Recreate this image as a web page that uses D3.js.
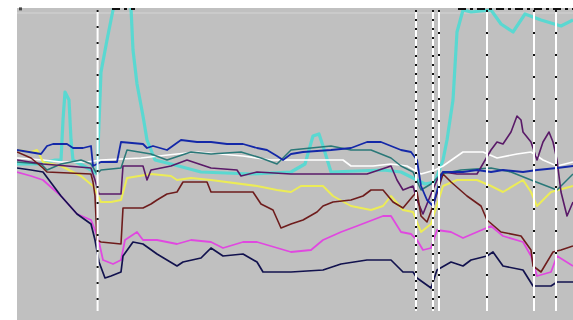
<!DOCTYPE html>
<html>
<head>
<meta charset="utf-8">
<script src="https://cdn.jsdelivr.net/npm/d3@7/dist/d3.min.js"></script>
<style>
html,body{margin:0;padding:0;background:#fff;}
svg{display:block;}
</style>
</head>
<body>
<svg id="chart" width="573" height="320"></svg>
<script>
// ---- data: [day, index value] ----
const turquoise = [[0,78],[12,78],[19,80],[22,80],[23,100],[24,114],[26,110],[27,90],[28,80],[37,75],[40,73],[42,124],[45,140],[48,155],[50,162],[55,162],[57,156],[58,135],[60,118],[63,102],[65,90],[69,80],[77,78],[92,74],[117,73],[137,74],[144,78],[148,92],[151,93],[153,87],[157,74],[183,75],[192,74],[200,70],[204,68],[209,69],[213,80],[215,90],[218,110],[220,144],[223,155],[227,154],[237,155],[242,148],[248,144],[254,153],[262,150],[272,147],[278,150]];
const white = [[0,81],[13,80],[22,79],[35,79],[42,80],[62,81],[80,83],[90,84],[113,82],[127,80],[137,80],[153,80],[163,80],[167,77],[178,77],[187,78],[195,77],[202,73],[209,75],[213,77],[223,84],[233,84],[240,81],[250,83],[257,84],[263,80],[270,77],[278,79]];
const yellow = [[0,85],[7,84],[10,85],[13,79],[22,77],[32,72],[38,67],[42,59],[47,59],[52,60],[55,71],[67,73],[77,72],[80,70],[87,71],[97,70],[120,67],[130,65],[137,64],[142,67],[153,67],[158,62],[167,57],[177,55],[183,57],[187,62],[193,55],[198,54],[202,44],[207,48],[213,67],[220,70],[230,70],[237,67],[243,64],[253,70],[257,64],[260,57],[267,64],[278,67]];
const magenta = [[0,74],[7,72],[13,70],[22,62],[30,53],[37,50],[39,45],[41,39],[43,30],[48,28],[52,30],[54,40],[60,44],[63,40],[70,40],[80,38],[87,40],[97,39],[103,36],[113,39],[120,39],[137,34],[147,35],[153,40],[162,44],[170,47],[183,52],[187,52],[192,44],[197,43],[200,40],[203,35],[207,36],[210,45],[217,44],[223,41],[230,44],[237,47],[243,42],[253,39],[257,32],[260,22],[267,24],[270,32],[278,27]];
const teal = [[0,79],[12,78],[15,75],[22,78],[32,80],[37,78],[40,73],[42,75],[52,76],[55,85],[67,83],[75,80],[87,84],[97,83],[112,84],[122,81],[130,78],[137,85],[147,86],[157,87],[167,85],[177,85],[187,81],[192,77],[198,74],[202,65],[207,68],[212,73],[222,75],[237,76],[247,74],[257,70],[270,65],[278,73]];
const purple = [[0,80],[13,78],[37,76],[39,70],[41,63],[52,63],[53,77],[63,77],[65,70],[67,75],[77,77],[85,80],[97,76],[110,75],[112,72],[120,74],[137,73],[175,73],[187,77],[190,70],[193,65],[198,67],[200,60],[203,53],[207,63],[210,70],[213,74],[220,73],[230,73],[237,85],[240,89],[243,88],[247,94],[250,102],[252,100],[253,94],[257,89],[260,80],[263,89],[266,94],[268,89],[270,80],[272,64],[275,52],[278,59]];
const brown = [[0,84],[7,81],[13,76],[15,74],[37,73],[38,69],[39,62],[40,40],[42,39],[52,38],[53,56],[63,56],[67,58],[70,60],[75,63],[80,64],[83,69],[95,69],[97,64],[118,64],[122,58],[128,55],[132,46],[137,48],[143,50],[150,54],[153,57],[158,59],[167,60],[173,62],[177,65],[183,65],[188,59],[193,56],[198,62],[200,64],[202,52],[205,49],[208,57],[213,73],[217,69],[225,62],[232,57],[235,50],[242,44],[252,42],[257,35],[258,27],[262,24],[268,34],[272,35],[278,37]];
const blue = [[0,85],[12,83],[15,87],[18,88],[25,88],[28,86],[33,86],[37,87],[38,77],[42,79],[50,79],[52,89],[63,88],[65,86],[68,87],[75,85],[82,90],[90,89],[97,89],[105,88],[113,88],[120,86],[125,85],[130,82],[133,80],[137,83],[143,84],[157,85],[167,86],[175,89],[182,89],[187,87],[192,85],[197,84],[200,80],[202,67],[205,60],[208,57],[212,72],[213,74],[223,74],[230,75],[237,74],[243,75],[253,74],[260,75],[270,76],[278,77]];
const navy = [[0,76],[7,75],[13,74],[22,62],[30,53],[37,48],[39,40],[41,29],[44,21],[47,22],[52,24],[53,32],[58,39],[63,38],[70,33],[80,27],[83,29],[92,31],[97,36],[103,32],[113,33],[120,29],[123,24],[137,24],[153,25],[162,28],[175,30],[187,30],[193,24],[198,24],[200,21],[207,16],[210,25],[217,29],[223,27],[227,30],[235,32],[238,34],[243,27],[253,25],[258,17],[267,17],[270,19],[278,19]];
// event days (vertical markers) and top-clipped marker spans
const eventDays = [40.3, 199.5, 208, 211, 235, 258.5, 269.5];
const topSpans = [[47.5, 59], [220.5, 278]];

const svg = d3.select("#chart");
const W = 573, H = 320;
const x = d3.scaleLinear().domain([0, 278]).range([17, 573]);
const y = d3.scaleLinear().domain([0, 156]).range([320, 8]);

// plot area
svg.append("rect").attr("x", x(0)).attr("y", y(156)).attr("width", x(278) - x(0)).attr("height", y(0) - y(156)).attr("fill", "#c0c0c0");
svg.append("defs").append("clipPath").attr("id", "clip")
  .append("rect").attr("x", x(0)).attr("y", y(156)).attr("width", x(278) - x(0)).attr("height", y(0) - y(156));
// faint band near the top
svg.append("line").attr("x1", x(0)).attr("x2", x(278)).attr("y1", y(153.5)).attr("y2", y(153.5))
  .attr("stroke", "#cacaca").attr("stroke-width", 2);
svg.append("rect").attr("x", x(1)).attr("y", y(156.3)).attr("width", 3).attr("height", 3).attr("fill", "#444");

const g = svg.append("g").attr("clip-path", "url(#clip)");
const line = d3.line().x(d => x(d[0])).y(d => y(d[1]));

const series = [
  {d: turquoise, c: "#48dcd4", w: 3.2, o: 0.85},
  {d: white, c: "#ffffff", w: 1.6, o: 1},
  {d: yellow, c: "#eeee50", w: 2, o: 0.95},
  {d: magenta, c: "#e048e0", w: 1.8, o: 1},
  {d: teal, c: "#2a7878", w: 1.5, o: 1},
  {d: purple, c: "#5a1a68", w: 1.6, o: 1},
  {d: brown, c: "#6e1c1c", w: 1.6, o: 1},
  {d: blue, c: "#1428a8", w: 1.8, o: 1},
  {d: navy, c: "#12124e", w: 1.7, o: 1}
];
series.forEach(s => {
  g.append("path").datum(s.d).attr("d", line)
    .attr("fill", "none").attr("stroke", s.c).attr("stroke-width", s.w)
    .attr("stroke-opacity", s.o).attr("stroke-linejoin", "round");
});

// vertical event markers: white line with black dots
eventDays.forEach((t, i) => {
  g.append("line").attr("x1", x(t)).attr("x2", x(t)).attr("y1", y(155)).attr("y2", y(4.5))
    .attr("stroke", "#ffffff").attr("stroke-width", 2);
  g.append("line").attr("x1", x(t)).attr("x2", x(t)).attr("y1", y(155)).attr("y2", y(4.5))
    .attr("stroke", "#111").attr("stroke-width", 2)
    .attr("stroke-dasharray", (i === 1 || i === 2) ? "2,7" : (i === 0 ? "2,14" : "2,20"));
});
// top-clipped black dashes
topSpans.forEach(s => {
  g.append("line").attr("x1", x(s[0])).attr("x2", x(s[1])).attr("y1", y(155.5)).attr("y2", y(155.5))
    .attr("stroke", "#111").attr("stroke-width", 2).attr("stroke-dasharray", "8,4,3,4");
});
</script>
</body>
</html>
